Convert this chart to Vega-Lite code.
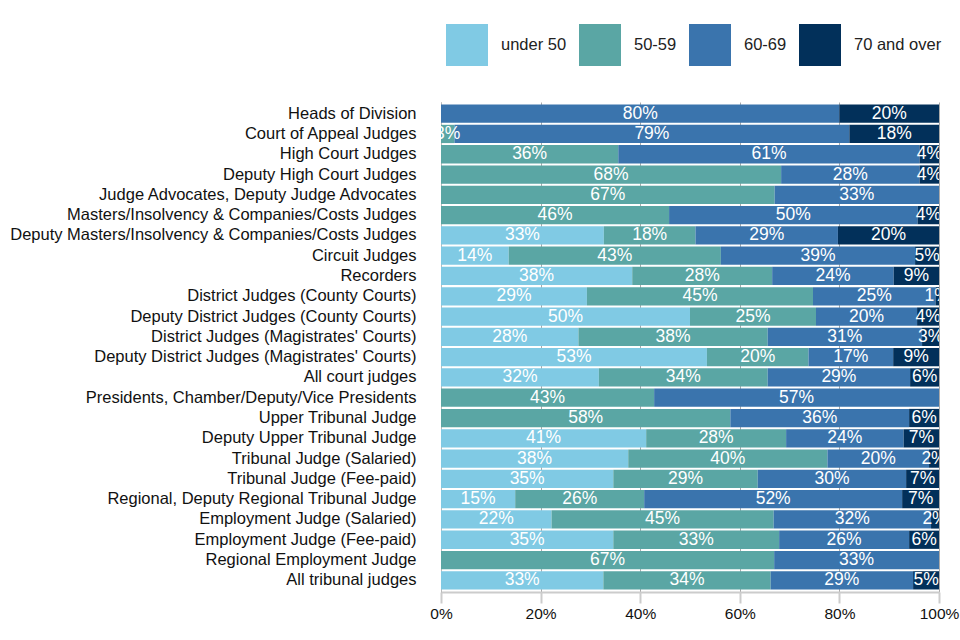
{
  "$schema": "https://vega.github.io/schema/vega-lite/v6.json",
  "width": 498,
  "height": 490,
  "autosize": {"type": "none"},
  "padding": {"left": 441, "top": 102, "right": 21, "bottom": 48},
  "background": "white",
  "config": {
    "font": "Liberation Sans",
    "view": {"stroke": null}
  },
  "data": {
    "values": [
      {"group": "Heads of Division", "age": "60-69", "pct": 80.0},
      {"group": "Heads of Division", "age": "70 and over", "pct": 20.0},
      {"group": "Court of Appeal Judges", "age": "50-59", "pct": 2.7},
      {"group": "Court of Appeal Judges", "age": "60-69", "pct": 79.3},
      {"group": "Court of Appeal Judges", "age": "70 and over", "pct": 18.0},
      {"group": "High Court Judges", "age": "50-59", "pct": 35.6},
      {"group": "High Court Judges", "age": "60-69", "pct": 60.5},
      {"group": "High Court Judges", "age": "70 and over", "pct": 3.9},
      {"group": "Deputy High Court Judges", "age": "50-59", "pct": 68.3},
      {"group": "Deputy High Court Judges", "age": "60-69", "pct": 27.8},
      {"group": "Deputy High Court Judges", "age": "70 and over", "pct": 3.9},
      {"group": "Judge Advocates, Deputy Judge Advocates", "age": "50-59", "pct": 67.0},
      {"group": "Judge Advocates, Deputy Judge Advocates", "age": "60-69", "pct": 33.0},
      {"group": "Masters/Insolvency & Companies/Costs Judges", "age": "50-59", "pct": 45.8},
      {"group": "Masters/Insolvency & Companies/Costs Judges", "age": "60-69", "pct": 49.9},
      {"group": "Masters/Insolvency & Companies/Costs Judges", "age": "70 and over", "pct": 4.3},
      {"group": "Deputy Masters/Insolvency & Companies/Costs Judges", "age": "under 50", "pct": 32.7},
      {"group": "Deputy Masters/Insolvency & Companies/Costs Judges", "age": "50-59", "pct": 18.4},
      {"group": "Deputy Masters/Insolvency & Companies/Costs Judges", "age": "60-69", "pct": 28.6},
      {"group": "Deputy Masters/Insolvency & Companies/Costs Judges", "age": "70 and over", "pct": 20.3},
      {"group": "Circuit Judges", "age": "under 50", "pct": 13.6},
      {"group": "Circuit Judges", "age": "50-59", "pct": 42.6},
      {"group": "Circuit Judges", "age": "60-69", "pct": 39.0},
      {"group": "Circuit Judges", "age": "70 and over", "pct": 4.8},
      {"group": "Recorders", "age": "under 50", "pct": 38.4},
      {"group": "Recorders", "age": "50-59", "pct": 28.1},
      {"group": "Recorders", "age": "60-69", "pct": 24.4},
      {"group": "Recorders", "age": "70 and over", "pct": 9.1},
      {"group": "District Judges (County Courts)", "age": "under 50", "pct": 29.3},
      {"group": "District Judges (County Courts)", "age": "50-59", "pct": 45.4},
      {"group": "District Judges (County Courts)", "age": "60-69", "pct": 24.6},
      {"group": "District Judges (County Courts)", "age": "70 and over", "pct": 0.7},
      {"group": "Deputy District Judges (County Courts)", "age": "under 50", "pct": 50.0},
      {"group": "Deputy District Judges (County Courts)", "age": "50-59", "pct": 25.3},
      {"group": "Deputy District Judges (County Courts)", "age": "60-69", "pct": 20.3},
      {"group": "Deputy District Judges (County Courts)", "age": "70 and over", "pct": 4.4},
      {"group": "District Judges (Magistrates' Courts)", "age": "under 50", "pct": 27.6},
      {"group": "District Judges (Magistrates' Courts)", "age": "50-59", "pct": 38.0},
      {"group": "District Judges (Magistrates' Courts)", "age": "60-69", "pct": 31.0},
      {"group": "District Judges (Magistrates' Courts)", "age": "70 and over", "pct": 3.4},
      {"group": "Deputy District Judges (Magistrates' Courts)", "age": "under 50", "pct": 53.4},
      {"group": "Deputy District Judges (Magistrates' Courts)", "age": "50-59", "pct": 20.4},
      {"group": "Deputy District Judges (Magistrates' Courts)", "age": "60-69", "pct": 17.0},
      {"group": "Deputy District Judges (Magistrates' Courts)", "age": "70 and over", "pct": 9.2},
      {"group": "All court judges", "age": "under 50", "pct": 31.7},
      {"group": "All court judges", "age": "50-59", "pct": 33.9},
      {"group": "All court judges", "age": "60-69", "pct": 28.6},
      {"group": "All court judges", "age": "70 and over", "pct": 5.8},
      {"group": "Presidents, Chamber/Deputy/Vice Presidents", "age": "50-59", "pct": 42.8},
      {"group": "Presidents, Chamber/Deputy/Vice Presidents", "age": "60-69", "pct": 57.2},
      {"group": "Upper Tribunal Judge", "age": "50-59", "pct": 58.1},
      {"group": "Upper Tribunal Judge", "age": "60-69", "pct": 35.9},
      {"group": "Upper Tribunal Judge", "age": "70 and over", "pct": 6.0},
      {"group": "Deputy Upper Tribunal Judge", "age": "under 50", "pct": 41.2},
      {"group": "Deputy Upper Tribunal Judge", "age": "50-59", "pct": 28.1},
      {"group": "Deputy Upper Tribunal Judge", "age": "60-69", "pct": 23.6},
      {"group": "Deputy Upper Tribunal Judge", "age": "70 and over", "pct": 7.1},
      {"group": "Tribunal Judge (Salaried)", "age": "under 50", "pct": 37.6},
      {"group": "Tribunal Judge (Salaried)", "age": "50-59", "pct": 40.0},
      {"group": "Tribunal Judge (Salaried)", "age": "60-69", "pct": 20.4},
      {"group": "Tribunal Judge (Salaried)", "age": "70 and over", "pct": 2.0},
      {"group": "Tribunal Judge (Fee-paid)", "age": "under 50", "pct": 34.6},
      {"group": "Tribunal Judge (Fee-paid)", "age": "50-59", "pct": 29.0},
      {"group": "Tribunal Judge (Fee-paid)", "age": "60-69", "pct": 29.8},
      {"group": "Tribunal Judge (Fee-paid)", "age": "70 and over", "pct": 6.6},
      {"group": "Regional, Deputy Regional Tribunal Judge", "age": "under 50", "pct": 14.9},
      {"group": "Regional, Deputy Regional Tribunal Judge", "age": "50-59", "pct": 25.9},
      {"group": "Regional, Deputy Regional Tribunal Judge", "age": "60-69", "pct": 51.8},
      {"group": "Regional, Deputy Regional Tribunal Judge", "age": "70 and over", "pct": 7.4},
      {"group": "Employment Judge (Salaried)", "age": "under 50", "pct": 22.2},
      {"group": "Employment Judge (Salaried)", "age": "50-59", "pct": 44.6},
      {"group": "Employment Judge (Salaried)", "age": "60-69", "pct": 31.6},
      {"group": "Employment Judge (Salaried)", "age": "70 and over", "pct": 1.6},
      {"group": "Employment Judge (Fee-paid)", "age": "under 50", "pct": 34.6},
      {"group": "Employment Judge (Fee-paid)", "age": "50-59", "pct": 33.3},
      {"group": "Employment Judge (Fee-paid)", "age": "60-69", "pct": 26.1},
      {"group": "Employment Judge (Fee-paid)", "age": "70 and over", "pct": 6.0},
      {"group": "Regional Employment Judge", "age": "50-59", "pct": 66.9},
      {"group": "Regional Employment Judge", "age": "60-69", "pct": 33.1},
      {"group": "All tribunal judges", "age": "under 50", "pct": 32.6},
      {"group": "All tribunal judges", "age": "50-59", "pct": 33.6},
      {"group": "All tribunal judges", "age": "60-69", "pct": 28.6},
      {"group": "All tribunal judges", "age": "70 and over", "pct": 5.2}
    ]
  },
  "transform": [
    {"calculate": "indexof(['under 50','50-59','60-69','70 and over'], datum.age)", "as": "k"},
    {"stack": "pct", "groupby": ["group"], "sort": [{"field": "k", "order": "ascending"}], "as": ["x0", "x1"]},
    {"calculate": "(datum.x0 + datum.x1) / 2", "as": "mid"},
    {"calculate": "format(datum.pct, '.0f') + '%'", "as": "label"}
  ],
  "encoding": {
    "y": {
      "field": "group",
      "type": "nominal",
      "sort": null,
      "title": null,
      "scale": {"paddingInner": 0.1, "paddingOuter": 0.125},
      "axis": {
        "ticks": false,
        "labelPadding": 25,
        "labelFontSize": 16.5,
        "labelColor": "#111111",
        "labelLimit": 600,
        "domain": true,
        "domainColor": "#bbbbbb",
        "domainWidth": 1,
        "grid": false
      }
    }
  },
  "layer": [
    {
      "mark": {"type": "bar"},
      "encoding": {
        "x": {
          "field": "x0",
          "type": "quantitative",
          "scale": {"domain": [0, 100], "nice": false},
          "title": null,
          "axis": {
            "values": [0, 20, 40, 60, 80, 100],
            "labelExpr": "datum.value + '%'",
            "labelFontSize": 15.5,
            "labelColor": "#111111",
            "labelPadding": 3,
            "labelDx": -8,
            "tickSize": 11,
            "tickWidth": 2,
            "tickColor": "#cccccc",
            "domainColor": "#cccccc",
            "domainWidth": 2,
            "grid": true,
            "gridColor": "#aaaaaa",
            "gridWidth": 1,
            "labelFlush": false
          }
        },
        "x2": {"field": "x1"},
        "color": {
          "field": "age",
          "type": "nominal",
          "scale": {
            "domain": ["under 50", "50-59", "60-69", "70 and over"],
            "range": ["#80cae4", "#5aa6a4", "#3a74ad", "#02305a"]
          },
          "legend": {
            "title": null,
            "orient": "none",
            "direction": "horizontal",
            "legendX": 5,
            "legendY": -78,
            "symbolType": "square",
            "symbolSize": 1764,
            "symbolStrokeWidth": 0,
            "symbolOpacity": 1,
            "labelFontSize": 16.5,
            "labelColor": "#222222",
            "labelOffset": 13,
            "columnPadding": 12
          }
        }
      }
    },
    {
      "mark": {"type": "text", "color": "white", "fontSize": 17.5, "clip": true, "baseline": "middle", "align": "center"},
      "encoding": {
        "x": {"field": "mid", "type": "quantitative"},
        "text": {"field": "label"}
      }
    }
  ]
}
